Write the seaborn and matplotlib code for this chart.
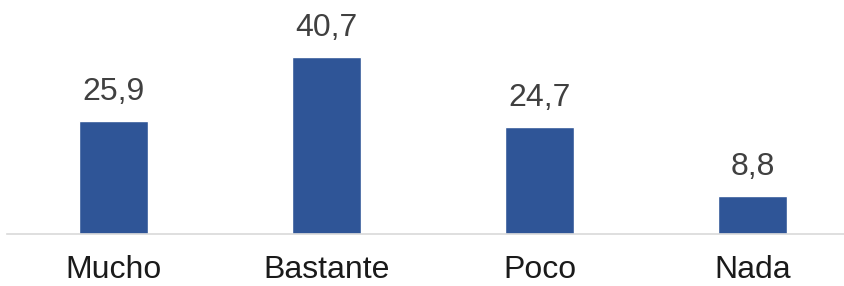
import matplotlib.pyplot as plt
import seaborn as sns
import pandas as pd

# values
categorias = ["Mucho", "Bastante", "Poco", "Nada"]
valores = [25.9, 40.7, 24.7, 8.8]
etiquetas = ["25,9", "40,7", "24,7", "8,8"]

df = pd.DataFrame({"cat": categorias, "val": valores})

sns.set_style("white")
plt.rcParams["font.family"] = ["Liberation Sans", "DejaVu Sans"]

fig = plt.figure(figsize=(8.44, 2.86), dpi=100)
ax = fig.add_axes([7 / 844, 52 / 286, 1 - 7 / 844, 1 - 52 / 286])

sns.barplot(data=df, x="cat", y="val", color="#2F5597", width=0.325,
            saturation=1, ax=ax)

for i, (v, t) in enumerate(zip(valores, etiquetas)):
    ax.annotate(t, (i, v), xytext=(0, 10), textcoords="offset points",
                ha="center", va="bottom", fontsize=23, color="#404040")

ax.set_xlim(-0.5, 3.43)
ax.set_ylim(0, 53.8)
ax.set_xlabel("")
ax.set_ylabel("")
ax.set_yticks([])
ax.tick_params(axis="x", length=0, pad=15, labelsize=23, labelcolor="#1a1a1a")
for s in ["top", "right", "left"]:
    ax.spines[s].set_visible(False)
ax.spines["bottom"].set_color("#D9D9D9")
ax.spines["bottom"].set_linewidth(1.2)

fig.savefig("out.png", dpi=100)
